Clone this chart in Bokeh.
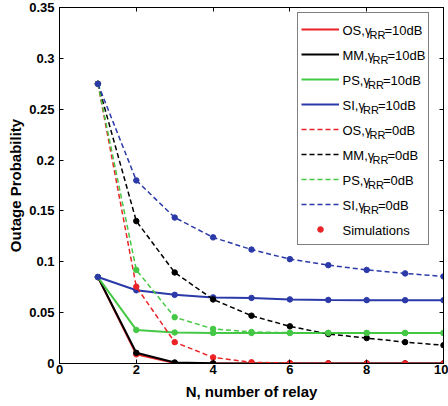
from bokeh.plotting import figure
from bokeh.models import Range1d, FixedTicker, LinearAxis, Legend, LegendItem, Label
from bokeh.core.properties import value
from bokeh.embed import file_html
from bokeh.resources import INLINE

# ---------------- data ----------------
relays = [1, 2, 3, 4, 5, 6, 7, 8, 9, 10]

os_10db = [0.085, 0.009, 0.0005, 0.0, 0.0, 0.0, 0.0, 0.0, 0.0, 0.0]
mm_10db = [0.085, 0.0105, 0.001, 0.0002, 0.0, 0.0, 0.0, 0.0, 0.0, 0.0]
ps_10db = [0.085, 0.033, 0.0305, 0.030, 0.030, 0.030, 0.030, 0.030, 0.030, 0.030]
si_10db = [0.085, 0.072, 0.0675, 0.065, 0.0645, 0.063, 0.0625, 0.0623, 0.0622, 0.0622]

os_0db = [0.275, 0.0755, 0.021, 0.006, 0.0012, 0.0003, 0.0001, 0.0, 0.0, 0.0]
mm_0db = [0.275, 0.140, 0.0895, 0.063, 0.047, 0.0365, 0.029, 0.025, 0.021, 0.018]
ps_0db = [0.275, 0.092, 0.0455, 0.034, 0.031, 0.0303, 0.0301, 0.030, 0.030, 0.030]
si_0db = [0.275, 0.180, 0.1435, 0.124, 0.112, 0.1026, 0.0967, 0.092, 0.0886, 0.0856]

x_ticks = [0, 2, 4, 6, 8, 10]
x_tick_labels = ["0", "2", "4", "6", "8", "10"]
y_ticks = [0, 0.05, 0.1, 0.15, 0.2, 0.25, 0.3, 0.35]
y_tick_labels = ["0", "0.05", "0.1", "0.15", "0.2", "0.25", "0.3", "0.35"]

# ---------------- styling ----------------
FONT = "Liberation Sans"
RED = "#ec2326"
BLACK = "#000000"
GREEN = "#45c845"
BLUE = "#2b3aa8"
colors = {"OS": RED, "MM": BLACK, "PS": GREEN, "SI": BLUE}

series = [
    ("OS", "10dB", os_10db), ("MM", "10dB", mm_10db),
    ("PS", "10dB", ps_10db), ("SI", "10dB", si_10db),
    ("OS", "0dB", os_0db), ("MM", "0dB", mm_0db),
    ("PS", "0dB", ps_0db), ("SI", "0dB", si_0db),
]

p = figure(
    frame_width=384, frame_height=356,
    min_border_left=59, min_border_right=5, min_border_top=7, min_border_bottom=0,
    x_range=Range1d(0, 10), y_range=Range1d(0, 0.35),
    output_backend="svg", toolbar_location=None,
    background_fill_color="white", border_fill_color="white",
    outline_line_color="black", outline_line_width=1,
)
p.grid.visible = False

# axes
p.xaxis.ticker = FixedTicker(ticks=x_ticks)
p.xaxis.major_label_overrides = dict(zip(x_ticks, x_tick_labels))
p.yaxis.ticker = FixedTicker(ticks=y_ticks)
p.yaxis.major_label_overrides = dict(zip(y_ticks, y_tick_labels))
p.xaxis.axis_label = "N, number of relay"
p.yaxis.axis_label = "Outage Probability"
for ax in (p.xaxis[0], p.yaxis[0]):
    ax.major_tick_in = 4
    ax.major_tick_out = 0
    ax.minor_tick_line_color = None
    ax.axis_line_color = "black"
    ax.major_tick_line_color = "black"
    ax.major_label_text_font = FONT
    ax.major_label_text_font_style = "bold"
    ax.major_label_text_font_size = "13px"
    ax.major_label_text_color = "black"
    ax.axis_label_text_font = FONT
    ax.axis_label_text_font_style = "bold"
    ax.axis_label_text_font_size = "15px"
    ax.axis_label_text_color = "black"
p.xaxis.major_label_standoff = 1
p.xaxis.axis_label_standoff = 6
p.yaxis.major_label_standoff = 5
p.yaxis.axis_label_standoff = 2

top_ax = LinearAxis(ticker=FixedTicker(ticks=x_ticks))
right_ax = LinearAxis(ticker=FixedTicker(ticks=y_ticks))
for ax in (top_ax, right_ax):
    ax.major_tick_in = 4
    ax.major_tick_out = 0
    ax.minor_tick_line_color = None
    ax.major_label_text_font_size = "0px"
    ax.major_label_text_color = None
    ax.major_label_standoff = 0
    ax.axis_label_standoff = 0
    ax.axis_line_color = "black"
p.add_layout(top_ax, "above")
p.add_layout(right_ax, "right")

# data
line_renderers = []
scatter_renderers = {}
for scheme, g, vals in series:
    dashed = g == "0dB"
    lr = p.line(relays, vals, line_color=colors[scheme],
                line_width=1.5 if dashed else 2,
                line_dash="5 3" if dashed else "solid")
    sr = p.scatter(relays, vals, marker="circle", size=5.5,
                   fill_color=colors[scheme], line_color=colors[scheme])
    line_renderers.append(lr)
    scatter_renderers[(scheme, g)] = sr

items = [LegendItem(label=value(" "), renderers=[r]) for r in line_renderers]
items.append(LegendItem(label=value(" "), renderers=[scatter_renderers[("OS", "0dB")]]))

legend = Legend(
    items=items, location=(238, 118), orientation="vertical",
    padding=3, spacing=0, margin=0,
    glyph_width=38, glyph_height=14, label_height=25, label_width=82,
    label_standoff=4, label_text_font_size="13px",
    border_line_color="black", border_line_width=1,
    background_fill_alpha=0,
)
p.add_layout(legend)

# legend texts with subscript (pixel offsets from the frame's top-left corner)
prefix_px = {"OS": 27, "MM": 30, "PS": 25.5, "SI": 20.5}
text_x = 283
row0 = 22.5
row_pitch = 25
for i, (scheme, g, _) in enumerate(series):
    yc = row0 + row_pitch * i
    p.add_layout(Label(x=0, y=0.35, x_offset=text_x, y_offset=-yc, level="overlay",
                       text=scheme + ",γ", text_font=FONT, text_font_size="13px",
                       text_baseline="middle", text_align="left", text_color="black"))
    p.add_layout(Label(x=0, y=0.35, x_offset=text_x + prefix_px[scheme], y_offset=-(yc + 5),
                       level="overlay",
                       text="RR", text_font=FONT, text_font_size="11px",
                       text_baseline="middle", text_align="left", text_color="black"))
    p.add_layout(Label(x=0, y=0.35, x_offset=text_x + prefix_px[scheme] + 15, y_offset=-yc,
                       level="overlay",
                       text="=" + g, text_font=FONT, text_font_size="13px",
                       text_baseline="middle", text_align="left", text_color="black"))
p.add_layout(Label(x=0, y=0.35, x_offset=text_x, y_offset=-(row0 + row_pitch * 8),
                   level="overlay",
                   text="Simulations", text_font=FONT, text_font_size="13px",
                   text_baseline="middle", text_align="left", text_color="black"))

open("out.html", "w").write(file_html(p, INLINE, title="Outage Probability"))
